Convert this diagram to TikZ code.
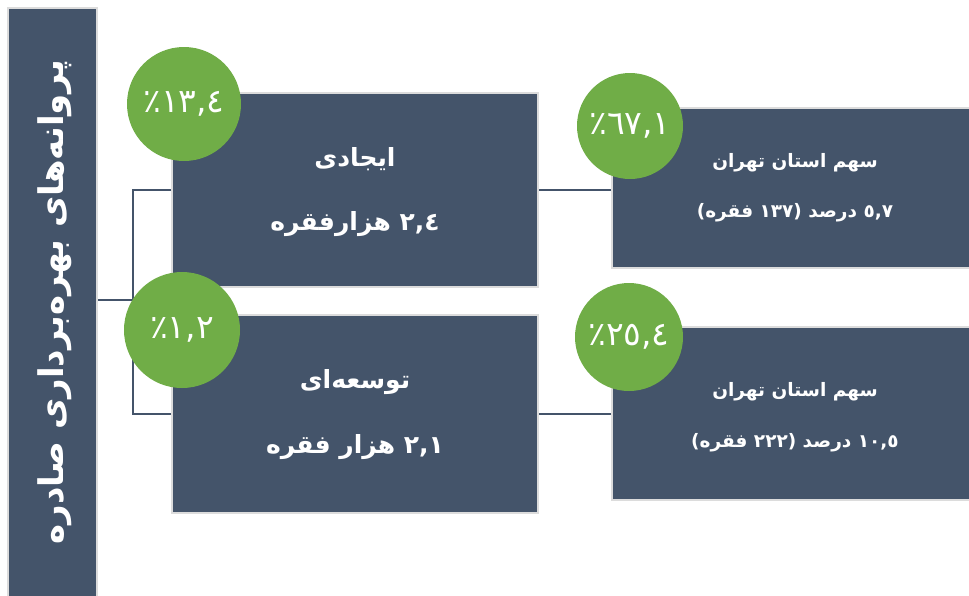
\documentclass[tikz,border=0pt]{standalone}
\usepackage{fontspec}
\newfontfamily\fa[Script=Arabic]{DejaVu Sans}
\TeXXeTstate=1
\definecolor{slate}{HTML}{44546A}
\definecolor{leaf}{HTML}{70AD47}
\definecolor{rim}{HTML}{DCDCDC}
\tikzset{
  panel/.style={fill=slate,draw=rim,line width=2pt,rectangle,inner sep=0pt},
  badge/.style={fill=leaf,draw=none,circle,inner sep=0pt,text=white,font=\fa\fontsize{33}{36}\selectfont},
  title/.style={text=white,font=\fa\bfseries\fontsize{25}{30}\selectfont,inner sep=0pt},
  small/.style={text=white,font=\fa\bfseries\fontsize{18.5}{22}\selectfont,inner sep=0pt},
  link/.style={draw=slate,line width=2pt}
}
\begin{document}
\begin{tikzpicture}[x=1pt,y=-1pt]
\useasboundingbox (0,0) rectangle (969,595);
\clip (0,0) rectangle (969,595);
\fill[white] (0,0) rectangle (969,595);
% left bar
\node[panel,minimum width=89pt,minimum height=600pt] (bar) at (52.5,308) {};
\node[text=white,font=\fa\bfseries\fontsize{34}{38}\selectfont,rotate=90,inner sep=0pt] (bart) at (55,302) {\beginR پروانه‌های بهره‌برداری صادره\endR};
% boxes
\node[panel,minimum width=366pt,minimum height=194pt] (b1) at (355,190) {};
\node[panel,minimum width=366pt,minimum height=198pt] (b2) at (355,414) {};
\node[panel,minimum width=378pt,minimum height=160pt] (b3) at (801,188) {};
\node[panel,minimum width=378pt,minimum height=173pt] (b4) at (801,413.5) {};
% connectors
\coordinate (j) at (133,300);
\draw[link] (bar.east |- j) -- (j);
\draw[link] (b1.west) -| (j) |- (b2.west);
\draw[link] (b1.east) -- (b3.west |- b1.east);
\draw[link] (b2.east) -- (b4.west |- b2.east);
% texts
\node[title] (t1a) at (355,159) {\beginR ایجادی\endR};
\node[title] (t1b) at (355,224) {\beginR ٢,٤ هزارفقره\endR};
\node[title] (t2a) at (355,382) {\beginR توسعه‌ای\endR};
\node[title] (t2b) at (355,447) {\beginR ٢,١ هزار فقره\endR};
\node[small] (t3a) at (795,163) {\beginR سهم استان تهران\endR};
\node[small] (t3b) at (795,213) {\beginR ٥,٧ درصد (١٣٧ فقره)\endR};
\node[small] (t4a) at (795,392) {\beginR سهم استان تهران\endR};
\node[small] (t4b) at (795,443) {\beginR ١٠,٥ درصد (٢٢٢ فقره)\endR};
% badges
\node[badge,minimum size=114pt] (c1) at (184,104) {\beginR ١٣,٤٪\endR};
\node[badge,minimum size=116pt] (c2) at (182,330) {\beginR ١,٢٪\endR};
\node[badge,minimum size=106pt] (c3) at (630,126) {\beginR ٦٧,١٪\endR};
\node[badge,minimum size=108pt] (c4) at (629,337) {\beginR ٢٥,٤٪\endR};
\end{tikzpicture}
\end{document}
